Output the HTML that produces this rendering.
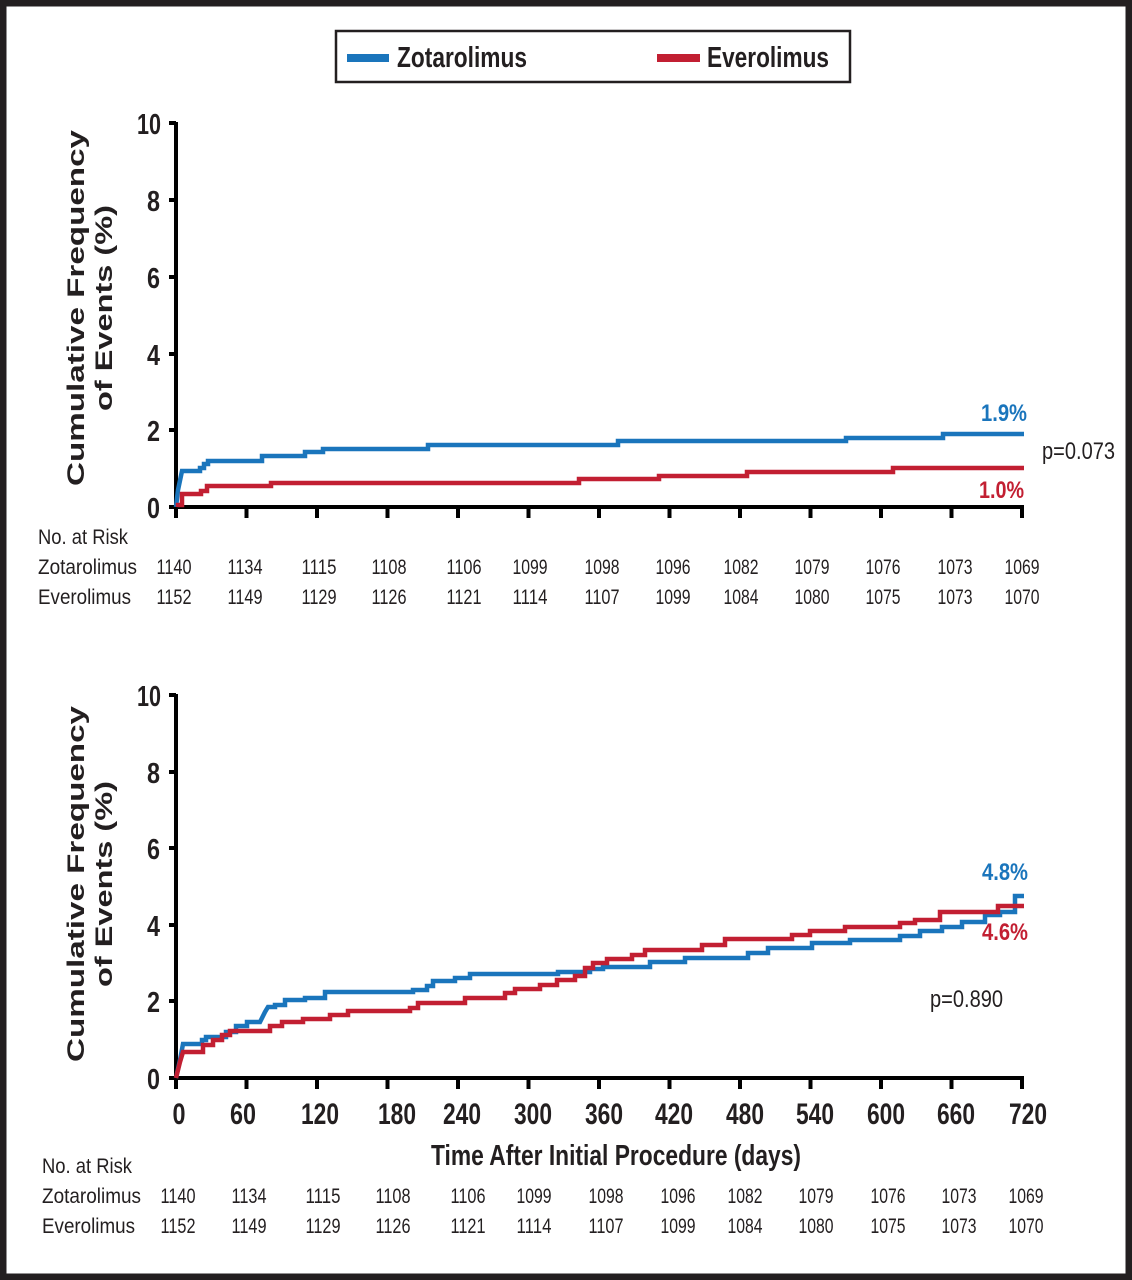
<!DOCTYPE html>
<html><head><meta charset="utf-8"><style>
html,body{margin:0;padding:0;background:#fff}
svg{display:block}
text{font-family:"Liberation Sans",Arial,sans-serif;fill:#231f20}
.n text{font-size:21px}
</style></head><body>
<svg width="1132" height="1280" viewBox="0 0 1132 1280" xmlns="http://www.w3.org/2000/svg">
<rect x="3" y="3" width="1126" height="1274" fill="#fff" stroke="#231f20" stroke-width="7"/>
<!-- legend -->
<rect x="336" y="31" width="514" height="51" fill="#fff" stroke="#231f20" stroke-width="2.5"/>
<rect x="347" y="54" width="42" height="8" fill="#1a75bc"/>
<text x="397" y="67" font-size="29" font-weight="bold" textLength="130" lengthAdjust="spacingAndGlyphs">Zotarolimus</text>
<rect x="657" y="54" width="43" height="8" fill="#c21f32"/>
<text x="707" y="67" font-size="29" font-weight="bold" textLength="122" lengthAdjust="spacingAndGlyphs">Everolimus</text>

<!-- TOP CHART -->
<g stroke="#000" stroke-width="4" fill="none">
<path d="M176,122 V509 M174,507 H1024"/>
<path d="M169,123 H176 M169,200 H176 M169,277 H176 M169,354 H176 M169,430 H176 M169,507 H176"/>
<path d="M176,507 V518 M246.5,507 V518 M317,507 V518 M387.5,507 V518 M458,507 V518 M528.5,507 V518 M599,507 V518 M669.5,507 V518 M740,507 V518 M810.5,507 V518 M881,507 V518 M951.5,507 V518 M1022,507 V518"/>
</g>
<g font-size="29" font-weight="bold" text-anchor="end">
<text x="161" y="134" textLength="24" lengthAdjust="spacingAndGlyphs">10</text>
<text x="160" y="211" textLength="13" lengthAdjust="spacingAndGlyphs">8</text><text x="160" y="288" textLength="13" lengthAdjust="spacingAndGlyphs">6</text><text x="160" y="365" textLength="13" lengthAdjust="spacingAndGlyphs">4</text><text x="160" y="441" textLength="13" lengthAdjust="spacingAndGlyphs">2</text><text x="160" y="518" textLength="13" lengthAdjust="spacingAndGlyphs">0</text>
</g>
<g font-size="24" font-weight="bold" text-anchor="middle">
<text transform="translate(84,308) rotate(-90)" textLength="356" lengthAdjust="spacingAndGlyphs">Cumulative Frequency</text>
<text transform="translate(112,308) rotate(-90)" textLength="206" lengthAdjust="spacingAndGlyphs">of Events (%)</text>
</g>
<path d="M176,507 L178,490 L182,471 H200 V468 H204 V464 H208 V461 H262 V456 H305 V452 H323 V449 H428 V445 H618 V441 H846 V438 H943 V434 H1024" stroke="#1a75bc" stroke-width="4.5" fill="none"/>
<path d="M178,507 V505 H182 V494 H201 V491 H207 V486 H271 V483 H579 V479 H659 V476 H747 V472 H893 V468 H1024" stroke="#c21f32" stroke-width="4.5" fill="none"/>
<text x="981" y="421" font-size="24" font-weight="bold" style="fill:#1a75bc" textLength="46" lengthAdjust="spacingAndGlyphs">1.9%</text>
<text x="979" y="498" font-size="24" font-weight="bold" style="fill:#c21f32" textLength="45" lengthAdjust="spacingAndGlyphs">1.0%</text>
<text x="1042" y="459" font-size="24" textLength="73" lengthAdjust="spacingAndGlyphs">p=0.073</text>

<g font-size="21">
<text x="38" y="544" textLength="90" lengthAdjust="spacingAndGlyphs">No. at Risk</text>
<text x="38" y="574" textLength="99" lengthAdjust="spacingAndGlyphs">Zotarolimus</text>
<text x="38" y="604" textLength="93" lengthAdjust="spacingAndGlyphs">Everolimus</text>
</g>
<g class="n" text-anchor="middle">
<text x="174" y="574" textLength="35" lengthAdjust="spacingAndGlyphs">1140</text><text x="245" y="574" textLength="35" lengthAdjust="spacingAndGlyphs">1134</text><text x="319" y="574" textLength="35" lengthAdjust="spacingAndGlyphs">1115</text><text x="389" y="574" textLength="35" lengthAdjust="spacingAndGlyphs">1108</text><text x="464" y="574" textLength="35" lengthAdjust="spacingAndGlyphs">1106</text><text x="530" y="574" textLength="35" lengthAdjust="spacingAndGlyphs">1099</text><text x="602" y="574" textLength="35" lengthAdjust="spacingAndGlyphs">1098</text><text x="673" y="574" textLength="35" lengthAdjust="spacingAndGlyphs">1096</text><text x="741" y="574" textLength="35" lengthAdjust="spacingAndGlyphs">1082</text><text x="812" y="574" textLength="35" lengthAdjust="spacingAndGlyphs">1079</text><text x="883" y="574" textLength="35" lengthAdjust="spacingAndGlyphs">1076</text><text x="955" y="574" textLength="35" lengthAdjust="spacingAndGlyphs">1073</text><text x="1022" y="574" textLength="35" lengthAdjust="spacingAndGlyphs">1069</text>
<text x="174" y="604" textLength="35" lengthAdjust="spacingAndGlyphs">1152</text><text x="245" y="604" textLength="35" lengthAdjust="spacingAndGlyphs">1149</text><text x="319" y="604" textLength="35" lengthAdjust="spacingAndGlyphs">1129</text><text x="389" y="604" textLength="35" lengthAdjust="spacingAndGlyphs">1126</text><text x="464" y="604" textLength="35" lengthAdjust="spacingAndGlyphs">1121</text><text x="530" y="604" textLength="35" lengthAdjust="spacingAndGlyphs">1114</text><text x="602" y="604" textLength="35" lengthAdjust="spacingAndGlyphs">1107</text><text x="673" y="604" textLength="35" lengthAdjust="spacingAndGlyphs">1099</text><text x="741" y="604" textLength="35" lengthAdjust="spacingAndGlyphs">1084</text><text x="812" y="604" textLength="35" lengthAdjust="spacingAndGlyphs">1080</text><text x="883" y="604" textLength="35" lengthAdjust="spacingAndGlyphs">1075</text><text x="955" y="604" textLength="35" lengthAdjust="spacingAndGlyphs">1073</text><text x="1022" y="604" textLength="35" lengthAdjust="spacingAndGlyphs">1070</text>
</g>

<!-- BOTTOM CHART -->
<g stroke="#000" stroke-width="4" fill="none">
<path d="M176,694 V1080 M174,1078 H1024"/>
<path d="M169,695 H176 M169,772 H176 M169,848 H176 M169,925 H176 M169,1001 H176 M169,1078 H176"/>
<path d="M176,1078 V1089 M246.5,1078 V1089 M317,1078 V1089 M387.5,1078 V1089 M458,1078 V1089 M528.5,1078 V1089 M599,1078 V1089 M669.5,1078 V1089 M740,1078 V1089 M810.5,1078 V1089 M881,1078 V1089 M951.5,1078 V1089 M1022,1078 V1089"/>
</g>
<g font-size="29" font-weight="bold" text-anchor="end">
<text x="161" y="706" textLength="24" lengthAdjust="spacingAndGlyphs">10</text>
<text x="160" y="783" textLength="13" lengthAdjust="spacingAndGlyphs">8</text><text x="160" y="859" textLength="13" lengthAdjust="spacingAndGlyphs">6</text><text x="160" y="936" textLength="13" lengthAdjust="spacingAndGlyphs">4</text><text x="160" y="1012" textLength="13" lengthAdjust="spacingAndGlyphs">2</text><text x="160" y="1089" textLength="13" lengthAdjust="spacingAndGlyphs">0</text>
</g>
<g font-size="24" font-weight="bold" text-anchor="middle">
<text transform="translate(84,884) rotate(-90)" textLength="356" lengthAdjust="spacingAndGlyphs">Cumulative Frequency</text>
<text transform="translate(112,884) rotate(-90)" textLength="206" lengthAdjust="spacingAndGlyphs">of Events (%)</text>
</g>
<g font-size="30" font-weight="bold" text-anchor="middle">
<text x="179" y="1124" textLength="13" lengthAdjust="spacingAndGlyphs">0</text><text x="243" y="1124" textLength="26" lengthAdjust="spacingAndGlyphs">60</text><text x="320" y="1124" textLength="38" lengthAdjust="spacingAndGlyphs">120</text><text x="397" y="1124" textLength="38" lengthAdjust="spacingAndGlyphs">180</text><text x="462" y="1124" textLength="38" lengthAdjust="spacingAndGlyphs">240</text><text x="533" y="1124" textLength="38" lengthAdjust="spacingAndGlyphs">300</text><text x="604" y="1124" textLength="38" lengthAdjust="spacingAndGlyphs">360</text><text x="674" y="1124" textLength="38" lengthAdjust="spacingAndGlyphs">420</text><text x="745" y="1124" textLength="38" lengthAdjust="spacingAndGlyphs">480</text><text x="815" y="1124" textLength="38" lengthAdjust="spacingAndGlyphs">540</text><text x="886" y="1124" textLength="38" lengthAdjust="spacingAndGlyphs">600</text><text x="956" y="1124" textLength="38" lengthAdjust="spacingAndGlyphs">660</text><text x="1028" y="1124" textLength="38" lengthAdjust="spacingAndGlyphs">720</text>
</g>
<text x="431" y="1165" font-size="29" font-weight="bold" textLength="370" lengthAdjust="spacingAndGlyphs">Time After Initial Procedure (days)</text>

<path d="M176,1078 L180,1060 L183,1044 H202 V1040 H206 V1037 H226 V1032 H236 V1026 H247 V1022 H260 L265,1012 L268,1007 H275 V1005 H285 V1000 H305 V998 H325 V992 H413 V990 H427 V986 H433 V981 H455 V978 H470 V974 H558 V972 H590 V969 H603 V967 H650 V962 H685 V958 H748 V953 H768 V948 H812 V943 H850 V940 H900 V936 H920 V931 H942 V927 H962 V922 H985 V915 H1000 V912 H1015 V896 H1024" stroke="#1a75bc" stroke-width="4.5" fill="none"/>
<path d="M176,1078 L180,1062 L183,1052 H203 V1045 H213 V1040 H222 V1035 H230 V1031 H270 V1026 H282 V1022 H303 V1019 H330 V1015 H348 V1011 H410 V1008 H418 V1003 H465 V998 H505 V993 H515 V989 H540 V985 H557 V980 H575 V976 H585 V968 H593 V963 H607 V959 H632 V955 H645 V950 H702 V945 H725 V939 H792 V935 H810 V931 H845 V927 H900 V923 H915 V920 H940 V912 H998 V906 H1024" stroke="#c21f32" stroke-width="4.5" fill="none"/>
<text x="982" y="880" font-size="24" font-weight="bold" style="fill:#1a75bc" textLength="46" lengthAdjust="spacingAndGlyphs">4.8%</text>
<text x="982" y="940" font-size="24" font-weight="bold" style="fill:#c21f32" textLength="46" lengthAdjust="spacingAndGlyphs">4.6%</text>
<text x="930" y="1007" font-size="24" textLength="73" lengthAdjust="spacingAndGlyphs">p=0.890</text>

<g font-size="21">
<text x="42" y="1173" textLength="90" lengthAdjust="spacingAndGlyphs">No. at Risk</text>
<text x="42" y="1203" textLength="99" lengthAdjust="spacingAndGlyphs">Zotarolimus</text>
<text x="42" y="1233" textLength="93" lengthAdjust="spacingAndGlyphs">Everolimus</text>
</g>
<g class="n" text-anchor="middle">
<text x="178" y="1203" textLength="35" lengthAdjust="spacingAndGlyphs">1140</text><text x="249" y="1203" textLength="35" lengthAdjust="spacingAndGlyphs">1134</text><text x="323" y="1203" textLength="35" lengthAdjust="spacingAndGlyphs">1115</text><text x="393" y="1203" textLength="35" lengthAdjust="spacingAndGlyphs">1108</text><text x="468" y="1203" textLength="35" lengthAdjust="spacingAndGlyphs">1106</text><text x="534" y="1203" textLength="35" lengthAdjust="spacingAndGlyphs">1099</text><text x="606" y="1203" textLength="35" lengthAdjust="spacingAndGlyphs">1098</text><text x="678" y="1203" textLength="35" lengthAdjust="spacingAndGlyphs">1096</text><text x="745" y="1203" textLength="35" lengthAdjust="spacingAndGlyphs">1082</text><text x="816" y="1203" textLength="35" lengthAdjust="spacingAndGlyphs">1079</text><text x="888" y="1203" textLength="35" lengthAdjust="spacingAndGlyphs">1076</text><text x="959" y="1203" textLength="35" lengthAdjust="spacingAndGlyphs">1073</text><text x="1026" y="1203" textLength="35" lengthAdjust="spacingAndGlyphs">1069</text>
<text x="178" y="1233" textLength="35" lengthAdjust="spacingAndGlyphs">1152</text><text x="249" y="1233" textLength="35" lengthAdjust="spacingAndGlyphs">1149</text><text x="323" y="1233" textLength="35" lengthAdjust="spacingAndGlyphs">1129</text><text x="393" y="1233" textLength="35" lengthAdjust="spacingAndGlyphs">1126</text><text x="468" y="1233" textLength="35" lengthAdjust="spacingAndGlyphs">1121</text><text x="534" y="1233" textLength="35" lengthAdjust="spacingAndGlyphs">1114</text><text x="606" y="1233" textLength="35" lengthAdjust="spacingAndGlyphs">1107</text><text x="678" y="1233" textLength="35" lengthAdjust="spacingAndGlyphs">1099</text><text x="745" y="1233" textLength="35" lengthAdjust="spacingAndGlyphs">1084</text><text x="816" y="1233" textLength="35" lengthAdjust="spacingAndGlyphs">1080</text><text x="888" y="1233" textLength="35" lengthAdjust="spacingAndGlyphs">1075</text><text x="959" y="1233" textLength="35" lengthAdjust="spacingAndGlyphs">1073</text><text x="1026" y="1233" textLength="35" lengthAdjust="spacingAndGlyphs">1070</text>
</g>
</svg>
</body></html>
